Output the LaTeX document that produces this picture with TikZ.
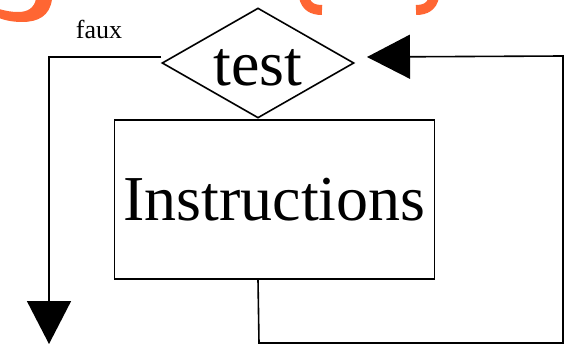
\documentclass[tikz,border=0pt]{standalone}
\usepackage{fontspec}
\setmainfont{Liberation Serif}
\usetikzlibrary{shapes.geometric,arrows.meta,calc}
\definecolor{titleorange}{HTML}{FF6633}
\tikzset{
  ln/.style={line width=1.6pt},
  bigtxt/.style={font=\fontsize{64}{64}\selectfont},
  head/.style={-{Triangle[length=43pt,width=44pt]}},
}
\begin{document}
\begin{tikzpicture}[x=1pt,y=-1pt]
\useasboundingbox (0,0) rectangle (567,345);
% cut-off orange glyphs at the top edge
\begin{scope}
\clip (0,0) rectangle (567,345);
\fill[titleorange] (52,-1) .. controls (50,16) and (38,22) .. (22,22)
  .. controls (12,22) and (4,20) .. (-1,18) -- (-1,9)
  .. controls (6,11) and (12,12) .. (18,12)
  .. controls (28,12) and (34,8) .. (36,-1) -- cycle;
\draw[titleorange, line width=10pt] (304,-3) .. controls (306,6) and (312,10) .. (322,10);
\draw[titleorange, line width=10pt] (434,-3) .. controls (432,6) and (426,10) .. (416,10);
\end{scope}
% nodes
\node[diamond, draw, ln, minimum width=192pt, minimum height=110pt, inner sep=0pt] (test) at (258,63) {};
\node[bigtxt, anchor=base, inner sep=0pt] (testlbl) at (258,85) {test};
\node[rectangle, draw, ln, minimum width=320pt, minimum height=159pt, inner sep=0pt, bigtxt] (instr) at (274.5,199.5) {Instructions};
\node[font=\fontsize{26}{26}\selectfont, anchor=base, inner sep=0pt] (faux) at (99,38) {faux};
% coordinates
\coordinate (fstart) at ($(test.west)+(0,-6)$);
\coordinate (fcorner) at (49,57);
\coordinate (fend) at (49,344);
\coordinate (rstart) at (test.south |- instr.south);
\coordinate (rb) at (259,343);
\coordinate (rc) at (563,343);
\coordinate (rd) at (563,56);
\coordinate (rend) at (367,57);
% connectors
\draw[ln, head] (fstart) -- (fcorner) -- (fend);
\draw[ln, head] (rstart) -- (rb) -- (rc) -- (rd) -- (rend);
\end{tikzpicture}
\end{document}
